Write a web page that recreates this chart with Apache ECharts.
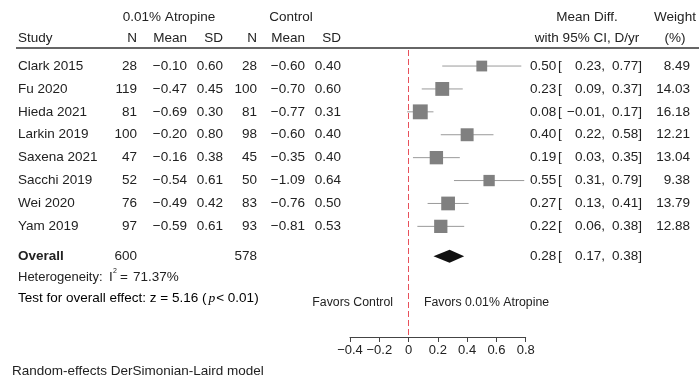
<!DOCTYPE html>
<html>
<head>
<meta charset="utf-8">
<script src="https://cdn.jsdelivr.net/npm/echarts@6/dist/echarts.min.js"></script>
<style>
html,body{margin:0;padding:0;background:#fff;}
#main{width:699px;height:381px;}
</style>
</head>
<body>
<div id="main"></div>
<script>
// ---- data ----
const studies = ['Clark 2015','Fu 2020','Hieda 2021','Larkin 2019','Saxena 2021','Sacchi 2019','Wei 2020','Yam 2019'];
const atrN = [28,119,81,100,47,52,76,97];
const atrMean = [-0.10,-0.47,-0.69,-0.20,-0.16,-0.54,-0.49,-0.59];
const atrSD = [0.60,0.45,0.30,0.80,0.38,0.61,0.42,0.61];
const ctlN = [28,100,81,98,45,50,83,93];
const ctlMean = [-0.60,-0.70,-0.77,-0.60,-0.35,-1.09,-0.76,-0.81];
const ctlSD = [0.40,0.60,0.31,0.40,0.40,0.64,0.50,0.53];
const meanDiff = [0.50,0.23,0.08,0.40,0.19,0.55,0.27,0.22];
const ciLow = [0.23,0.09,-0.01,0.22,0.03,0.31,0.13,0.06];
const ciHigh = [0.77,0.37,0.17,0.58,0.35,0.79,0.41,0.38];
const weights = [8.49,14.03,16.18,12.21,13.04,9.38,13.79,12.88];
const overallLabel = 'Overall';
const overallN = [600, 578];
const overallMD = [0.28, 0.17, 0.38];
const xTicks = [-0.4,-0.2,0,0.2,0.4,0.6,0.8];
const heterogeneityI2 = '71.37%';
const testZ = '5.16';
const testP = '< 0.01';

// ---- layout ----
const FONT = '"Liberation Sans", Arial, sans-serif';
const FS = 13.5;
const TXT = '#222';
const rowPos = studies.map((s,i)=>i);
const overallPos = 8.3;

function f2(v){ return v.toFixed(2).replace('-', '\u2212'); }

const chart = echarts.init(document.getElementById('main'), null, {renderer:'canvas'});

const colStudy = 18, colN1 = 137, colM1 = 187, colS1 = 223, colN2 = 257, colM2 = 305, colS2 = 341;
const colMD = 530, colBr = 558, colLo = 605, colHi = 642, colW = 690;

function txt(text, x, y, align, extra){
  return Object.assign({type:'text', silent:true, style:{text:text, x:x, y:y, align:align||'left', verticalAlign:'middle', fill:TXT, font: FS+'px '+FONT}}, extra||{});
}

const tableData = studies.map((s,i)=>[0, rowPos[i], i]);
tableData.push([0, overallPos, -1]);

const hetero = txt('Heterogeneity:', colStudy, 277, 'left');
hetero.style.font = '13px ' + FONT;

const option = {
  animation:false,
  backgroundColor:'#fff',
  grid:{left:350, top:50, width:175.7, height:287},
  xAxis:{
    type:'value', min:xTicks[0], max:xTicks[xTicks.length-1], interval:0.2, position:'bottom',
    axisLine:{show:true, onZero:false, lineStyle:{color:'#444', width:1}},
    axisTick:{show:true, length:5, lineStyle:{color:'#444'}},
    splitLine:{show:false},
    axisLabel:{color:TXT, fontSize:13, fontFamily:FONT, margin:7,
      formatter:function(v){ const r = Math.round(v*10)/10; return r===0?'0':String(r).replace('-', '\u2212'); }}
  },
  yAxis:{type:'value', min:-0.7, max:11.83, inverse:true, show:false},
  series:[
    {
      type:'custom', name:'ci', clip:false, z:2,
      data: studies.map((s,i)=>[ciLow[i], ciHigh[i], rowPos[i]]),
      renderItem:function(params, api){
        const a = api.coord([api.value(0), api.value(2)]);
        const b = api.coord([api.value(1), api.value(2)]);
        return {type:'line', shape:{x1:a[0], y1:a[1], x2:b[0], y2:b[1]}, style:{stroke:'#9a9a9a', lineWidth:1}};
      },
      markLine:{
        silent:true, symbol:'none', label:{show:false},
        lineStyle:{color:'#e8505b', type:[6,3], width:1},
        data:[{xAxis:0}]
      }
    },
    {
      type:'scatter', name:'md', z:3, symbol:'rect',
      data: studies.map((s,i)=>[meanDiff[i], rowPos[i], weights[i]]),
      symbolSize:function(v){ return 3.7*Math.sqrt(v[2]); },
      itemStyle:{color:'#808080', opacity:1}
    },
    {
      type:'custom', name:'overall', z:3, clip:false,
      data:[[overallMD[0], overallMD[1], overallMD[2], overallPos]],
      renderItem:function(params, api){
        const y = api.value(3);
        const c = api.coord([api.value(0), y]);
        const l = api.coord([api.value(1), y]);
        const r = api.coord([api.value(2), y]);
        const h = 6.5;
        return {type:'polygon', shape:{points:[[l[0],c[1]],[c[0],c[1]-h],[r[0],c[1]],[c[0],c[1]+h]]}, style:{fill:'#111'}};
      }
    },
    {
      type:'custom', name:'table', clip:false, z:4, silent:true,
      data: tableData,
      renderItem:function(params, api){
        const i = api.value(2);
        const y = api.coord([0, api.value(1)])[1];
        const ch = [];
        if(i >= 0){
          ch.push(txt(studies[i], colStudy, y, 'left'));
          ch.push(txt(String(atrN[i]), colN1, y, 'right'));
          ch.push(txt(f2(atrMean[i]), colM1, y, 'right'));
          ch.push(txt(f2(atrSD[i]), colS1, y, 'right'));
          ch.push(txt(String(ctlN[i]), colN2, y, 'right'));
          ch.push(txt(f2(ctlMean[i]), colM2, y, 'right'));
          ch.push(txt(f2(ctlSD[i]), colS2, y, 'right'));
          ch.push(txt(f2(meanDiff[i]), colMD, y, 'left'));
          ch.push(txt('[', colBr, y, 'left'));
          ch.push(txt(f2(ciLow[i])+',', colLo, y, 'right'));
          ch.push(txt(f2(ciHigh[i])+']', colHi, y, 'right'));
          ch.push(txt(weights[i].toFixed(2), colW, y, 'right'));
        } else {
          const t = txt(overallLabel, colStudy, y, 'left');
          t.style.font = 'bold '+FS+'px '+FONT;
          ch.push(t);
          ch.push(txt(String(overallN[0]), colN1, y, 'right'));
          ch.push(txt(String(overallN[1]), colN2, y, 'right'));
          ch.push(txt(f2(overallMD[0]), colMD, y, 'left'));
          ch.push(txt('[', colBr, y, 'left'));
          ch.push(txt(f2(overallMD[1])+',', colLo, y, 'right'));
          ch.push(txt(f2(overallMD[2])+']', colHi, y, 'right'));
        }
        return {type:'group', children:ch};
      }
    }
  ],
  graphic:[
    txt('0.01% Atropine', 169, 17, 'center'),
    txt('Control', 291, 17, 'center'),
    txt('Study', colStudy, 38, 'left'),
    txt('N', colN1, 38, 'right'),
    txt('Mean', colM1, 38, 'right'),
    txt('SD', colS1, 38, 'right'),
    txt('N', colN2, 38, 'right'),
    txt('Mean', colM2, 38, 'right'),
    txt('SD', colS2, 38, 'right'),
    txt('Mean Diff.', 587, 17, 'center'),
    txt('with 95% CI, D/yr', 587, 38, 'center'),
    txt('Weight', 675, 17, 'center'),
    txt('(%)', 675, 38, 'center'),
    {type:'line', silent:true, shape:{x1:16, y1:48, x2:699, y2:48}, style:{stroke:'#666', lineWidth:2}},
    hetero,
    txt('I', 109, 277, 'left'),
    {type:'text', silent:true, style:{text:'2', x:113, y:271, align:'left', verticalAlign:'middle', fill:TXT, font:'7px '+FONT}},
    txt('=', 120, 277, 'left'),
    txt(heterogeneityI2, 133, 277, 'left'),
    {type:'text', silent:true, style:{
      text:'{a|Test for overall effect: z = '+testZ+' (}{p|p}{a|'+testP+')}',
      x:colStudy, y:298, align:'left', verticalAlign:'middle',
      rich:{
        a:{fontSize:FS, fontFamily:FONT, color:TXT},
        p:{fontSize:FS, fontFamily:'"Liberation Serif", "DejaVu Serif", serif', fontStyle:'italic', color:TXT, padding:[0,1,0,2]}
      }
    }},
    {type:'text', silent:true, style:{text:'Favors Control', x:393, y:303, align:'right', verticalAlign:'middle', fill:TXT, font:'12.3px '+FONT}},
    {type:'text', silent:true, style:{text:'Favors 0.01% Atropine', x:424, y:303, align:'left', verticalAlign:'middle', fill:TXT, font:'12.3px '+FONT}},
    txt('Random-effects DerSimonian-Laird model', 12, 371, 'left')
  ]
};
chart.setOption(option);
</script>
</body>
</html>
